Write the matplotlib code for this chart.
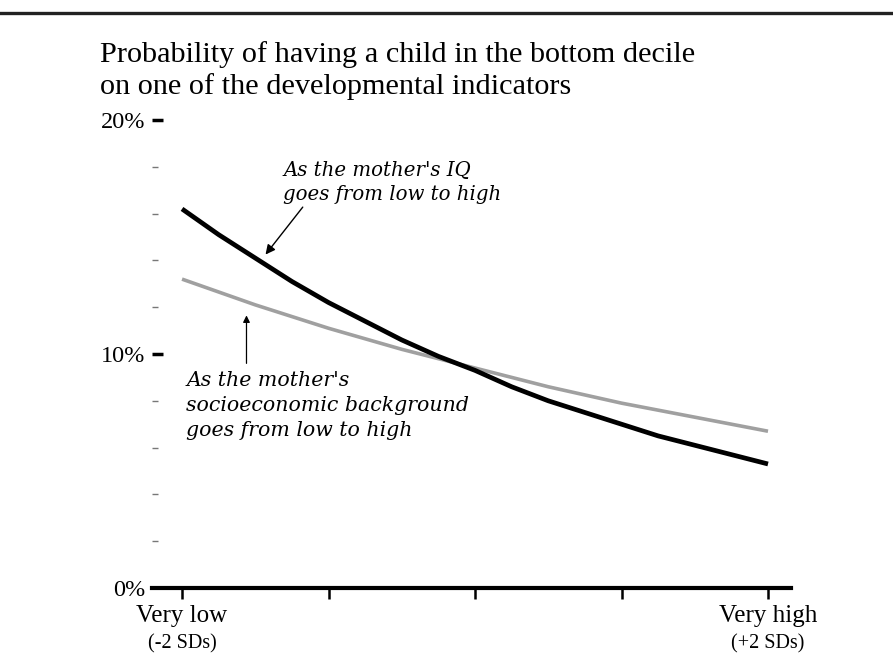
import numpy as np
import matplotlib.pyplot as plt
from matplotlib.lines import Line2D

plt.rcParams['font.family'] = ['Liberation Serif', 'DejaVu Serif']

# mother's standing, in SDs from the mean
sd_steps = [-2.0, -1.75, -1.5, -1.25, -1.0, -0.75, -0.5, -0.25, 0.0,
            0.25, 0.5, 0.75, 1.0, 1.25, 1.5, 1.75, 2.0]
# % of children in the bottom decile
by_iq = [16.2, 15.1, 14.1, 13.1, 12.2, 11.4, 10.6, 9.9, 9.3,
         8.6, 8.0, 7.5, 7.0, 6.5, 6.1, 5.7, 5.3]
by_ses = [13.2, 12.65, 12.1, 11.6, 11.1, 10.65, 10.2, 9.8, 9.4,
          9.0, 8.6, 8.25, 7.9, 7.6, 7.3, 7.0, 6.7]

x_ticks = [-2, -1, 0, 1, 2]
x_labels = ['Very low', '', '', '', 'Very high']
x_sublabels = {-2: '(-2 SDs)', 2: '(+2 SDs)'}

fig = plt.figure(figsize=(8.93, 6.54), dpi=100)
ax = fig.add_axes([152 / 893, 66 / 654, 639 / 893, 468 / 654])

ax.plot(sd_steps, by_ses, color='#a0a0a0', lw=2.6, solid_capstyle='butt')
ax.plot(sd_steps, by_iq, color='black', lw=3.4, solid_capstyle='butt')

ax.set_xlim(-2.205, 2.157)
ax.set_ylim(0, 20)

for side in ['top', 'right', 'left']:
    ax.spines[side].set_visible(False)
ax.spines['bottom'].set_linewidth(3)

ax.set_xticks(x_ticks)
ax.set_xticklabels(x_labels, fontsize=18)
ax.tick_params(axis='x', direction='out', length=8, width=1.8, pad=4)
for xv, sub in x_sublabels.items():
    ax.annotate(sub, xy=(xv, 0), xycoords=('data', 'axes fraction'),
                xytext=(0, -40), textcoords='offset points',
                ha='center', va='center', fontsize=14.5)

ax.set_yticks([0, 10, 20])
ax.set_yticklabels(['0%', '10%', '20%'], fontsize=17.5)
ax.set_yticks([2, 4, 6, 8, 12, 14, 16, 18], minor=True)
ax.tick_params(axis='y', which='major', direction='in', length=8, width=2.5, pad=5)
ax.tick_params(axis='y', which='minor', direction='in', length=4, width=1,
               color='#777777')
ax.get_yticklines()[0].set_visible(False)
ax.get_yticklines()[1].set_visible(False)

ax.annotate("As the mother's IQ\ngoes from low to high",
            xy=(-1.43, 14.25), xytext=(-1.31, 17.32),
            fontsize=14.2, style='italic', ha='left', va='center',
            family='DejaVu Serif', linespacing=1.35,
            arrowprops=dict(arrowstyle='-|>', color='black', lw=1,
                            shrinkA=0, shrinkB=0,
                            relpos=(0.1, 0.0)))
ax.annotate('', xy=(-1.56, 11.65), xytext=(-1.56, 9.6),
            arrowprops=dict(arrowstyle='-|>', color='black', lw=0.9,
                            shrinkA=0, shrinkB=0))
ax.text(-1.97, 7.82, "As the mother's\nsocioeconomic background\ngoes from low to high",
        fontsize=14.8, style='italic', ha='left', va='center',
        family='DejaVu Serif', linespacing=1.4)

fig.text(100 / 893, 1 - 71 / 654,
         'Probability of having a child in the bottom decile\n'
         'on one of the developmental indicators',
         fontsize=21.8, ha='left', va='center', linespacing=1.24)

# heavy rule across the top of the page
fig.add_artist(Line2D([0, 1], [1 - 13 / 654, 1 - 13 / 654], color='#222222',
                      lw=2.4, transform=fig.transFigure))

fig.savefig('out.png', dpi=100)
